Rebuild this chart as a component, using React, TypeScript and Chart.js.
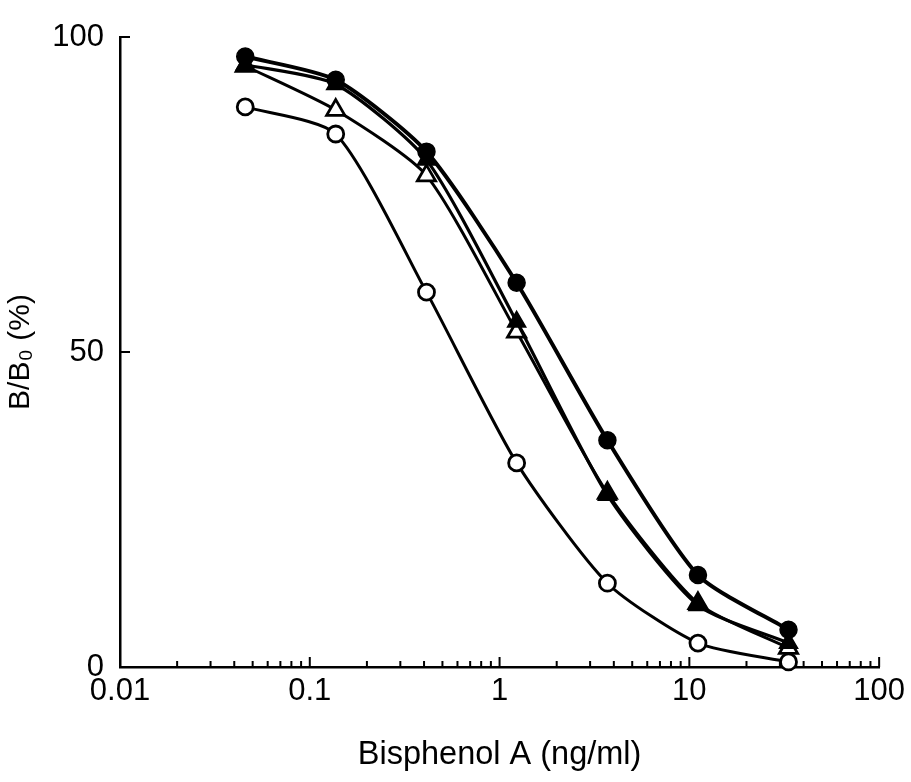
import React, { useEffect, useRef } from "react";
import { Chart, registerables } from "chart.js";

Chart.register(...registerables);

const concentrations = [0.0457, 0.137, 0.412, 1.23, 3.7, 11.1, 33.3];
const filledCircle = [96.9, 93.2, 81.8, 61.0, 36.0, 14.6, 5.9];
const filledTriangle = [95.6, 92.5, 80.5, 54.8, 27.3, 9.8, 3.8];
const openTriangle = [95.4, 88.4, 78.0, 53.2, 27.6, 10.1, 3.0];
const openCircle = [88.9, 84.6, 59.5, 32.4, 13.3, 3.8, 0.8];

const xMajorTicks = [0.01, 0.1, 1, 10, 100];
const xTickLabels = ["0.01", "0.1", "1", "10", "100"];
const yTicks = [0, 50, 100];

const FONT = "'Liberation Sans', Arial, Helvetica, sans-serif";

const toPoints = (ys: number[]) => concentrations.map((x, i) => ({ x, y: ys[i] }));

const inwardTicks = {
  id: "inwardTicks",
  afterDraw(chart: any) {
    const { ctx, chartArea, scales } = chart;
    const xs = scales.x;
    const ys = scales.y;
    ctx.save();
    ctx.strokeStyle = "#000";
    ctx.lineWidth = 2;
    ctx.beginPath();
    xMajorTicks.forEach((v, idx) => {
      const px = xs.getPixelForValue(v);
      ctx.moveTo(px, chartArea.bottom);
      ctx.lineTo(px, chartArea.bottom - 10);
      if (idx < xMajorTicks.length - 1) {
        for (let m = 2; m <= 9; m++) {
          const mp = xs.getPixelForValue(v * m);
          ctx.moveTo(mp, chartArea.bottom);
          ctx.lineTo(mp, chartArea.bottom - 6);
        }
      }
    });
    yTicks.forEach((v) => {
      const py = ys.getPixelForValue(v);
      ctx.moveTo(chartArea.left, py);
      ctx.lineTo(chartArea.left + 10, py);
    });
    ctx.stroke();
    ctx.restore();
  },
};

export default function App() {
  const ref = useRef<HTMLCanvasElement | null>(null);

  useEffect(() => {
    if (!ref.current) return;
    const common = {
      borderColor: "#000",
      pointBorderColor: "#000",
      tension: 0.22,
      clip: false as any,
    };
    const chart = new Chart(ref.current, {
      type: "line",
      data: {
        datasets: [
          {
            ...common,
            label: "filled circle",
            data: toPoints(filledCircle),
            borderWidth: 4,
            pointStyle: "circle",
            pointRadius: 8.5,
            pointBackgroundColor: "#000",
            pointBorderWidth: 1.5,
          },
          {
            ...common,
            label: "filled triangle",
            data: toPoints(filledTriangle),
            borderWidth: 3.2,
            pointStyle: "triangle",
            pointRadius: 10.5,
            pointBackgroundColor: "#000",
            pointBorderWidth: 1.5,
          },
          {
            ...common,
            label: "open triangle",
            data: toPoints(openTriangle),
            borderWidth: 3,
            pointStyle: "triangle",
            pointRadius: 10.5,
            pointBackgroundColor: "#fff",
            pointBorderWidth: 2.8,
          },
          {
            ...common,
            label: "open circle",
            data: toPoints(openCircle),
            borderWidth: 3,
            pointStyle: "circle",
            pointRadius: 8,
            pointBackgroundColor: "#fff",
            pointBorderWidth: 2.8,
          },
        ] as any,
      },
      options: {
        responsive: false,
        animation: false,
        layout: { padding: { left: 0, top: 37, right: 31, bottom: 0 } },
        plugins: {
          legend: { display: false },
          tooltip: { enabled: false },
        },
        scales: {
          x: {
            type: "logarithmic",
            min: 0.01,
            max: 100,
            afterFit: (s: any) => {
              s.height = 115;
            },
            afterBuildTicks: (s: any) => {
              s.ticks = xMajorTicks.map((v) => ({ value: v }));
            },
            grid: { display: false, drawTicks: false },
            border: { display: true, color: "#000", width: 2.5 },
            ticks: {
              color: "#000",
              font: { family: FONT, size: 31 },
              padding: 6,
              maxRotation: 0,
              autoSkip: false,
              callback: (v: any) => {
                const i = xMajorTicks.indexOf(Number(v));
                return i >= 0 ? xTickLabels[i] : "";
              },
            },
            title: {
              display: true,
              text: "Bisphenol A (ng/ml)",
              color: "#000",
              font: { family: FONT, size: 32.5 },
              padding: { top: 0, bottom: 7 },
            },
          },
          y: {
            type: "linear",
            min: 0,
            max: 100,
            afterFit: (s: any) => {
              s.width = 120;
            },
            afterBuildTicks: (s: any) => {
              s.ticks = yTicks.map((v) => ({ value: v }));
            },
            grid: { display: false, drawTicks: false },
            border: { display: true, color: "#000", width: 2.5 },
            ticks: {
              color: "#000",
              font: { family: FONT, size: 31 },
              padding: 16,
            },
            title: {
              display: true,
              text: "B/B₀ (%)",
              color: "#000",
              font: { family: FONT, size: 30 },
              padding: { top: 3, bottom: 0 },
            },
          },
        },
      },
      plugins: [inwardTicks],
    });
    return () => chart.destroy();
  }, []);

  return (
    <div style={{ position: "fixed", left: 0, top: 0, width: 911, height: 782, background: "#fff" }}>
      <canvas ref={ref} width={911} height={782} style={{ display: "block" }} />
    </div>
  );
}
